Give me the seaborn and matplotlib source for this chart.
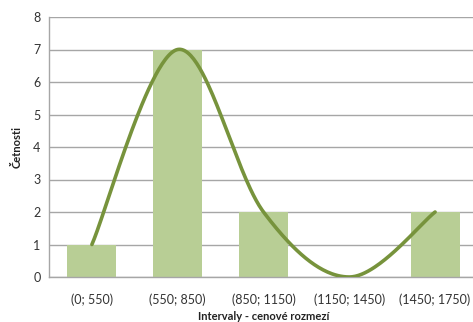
import numpy as np
import pandas as pd
import matplotlib
matplotlib.use("Agg")
import matplotlib.pyplot as plt
import seaborn as sns

categories = ["(0; 550)", "(550; 850)", "(850; 1150)", "(1150; 1450)", "(1450; 1750)"]
counts = [1, 7, 2, 0, 2]
yticks = [0, 1, 2, 3, 4, 5, 6, 7, 8]

sns.set_theme(style="white")
plt.rcParams['font.family'] = ['Lato', 'DejaVu Sans']

BAR = "#B8CE95"
LINE = "#77933C"
GRID = "#A6A6A6"

fig = plt.figure(figsize=(4.73, 3.22), dpi=100)
ax = fig.add_axes([49/473, (322-277)/322, (478-49)/473, (277-17)/322])

df = pd.DataFrame({"cat": categories, "n": counts})
sns.barplot(data=df, x="cat", y="n", color=BAR, width=0.57, saturation=1,
            linewidth=0, ax=ax, zorder=2)

# smooth line (Excel-style Bezier through the data points)
pts = np.array([[i, v] for i, v in enumerate(counts)], dtype=float)
xs, ys = [], []
t = np.linspace(0, 1, 60)
n = len(pts)
for i in range(n - 1):
    p0 = pts[max(i - 1, 0)]
    p1 = pts[i]
    p2 = pts[i + 1]
    p3 = pts[min(i + 2, n - 1)]
    b1 = p1 + (p2 - p0) / 6
    b2 = p2 - (p3 - p1) / 6
    seg = ((1 - t) ** 3)[:, None] * p1 + (3 * (1 - t) ** 2 * t)[:, None] * b1 \
        + (3 * (1 - t) * t ** 2)[:, None] * b2 + (t ** 3)[:, None] * p2
    xs.extend(seg[:, 0]); ys.extend(seg[:, 1])
ax.plot(xs, ys, color=LINE, lw=2.6, zorder=3, solid_capstyle="round")

ax.set_xlim(-0.5, len(categories) - 0.5)
ax.set_ylim(0, 8)
ax.set_yticks(yticks)
ax.yaxis.grid(True, color=GRID, lw=1, zorder=0)
ax.set_axisbelow(True)
for s in ["top", "right"]:
    ax.spines[s].set_visible(False)
for s in ["left", "bottom"]:
    ax.spines[s].set_color(GRID)
    ax.spines[s].set_linewidth(1)
ax.tick_params(axis="both", labelsize=9, colors="#333333", length=0, pad=6)
ax.tick_params(axis="x", pad=12)
ax.set_xlabel("Intervaly - cenové rozmezí", fontsize=8, fontweight="bold", color="#222222", labelpad=3.5)
ax.set_ylabel("Četnosti", fontsize=8, fontweight="bold", color="#222222", labelpad=8)

fig.savefig("out.png", dpi=100)
